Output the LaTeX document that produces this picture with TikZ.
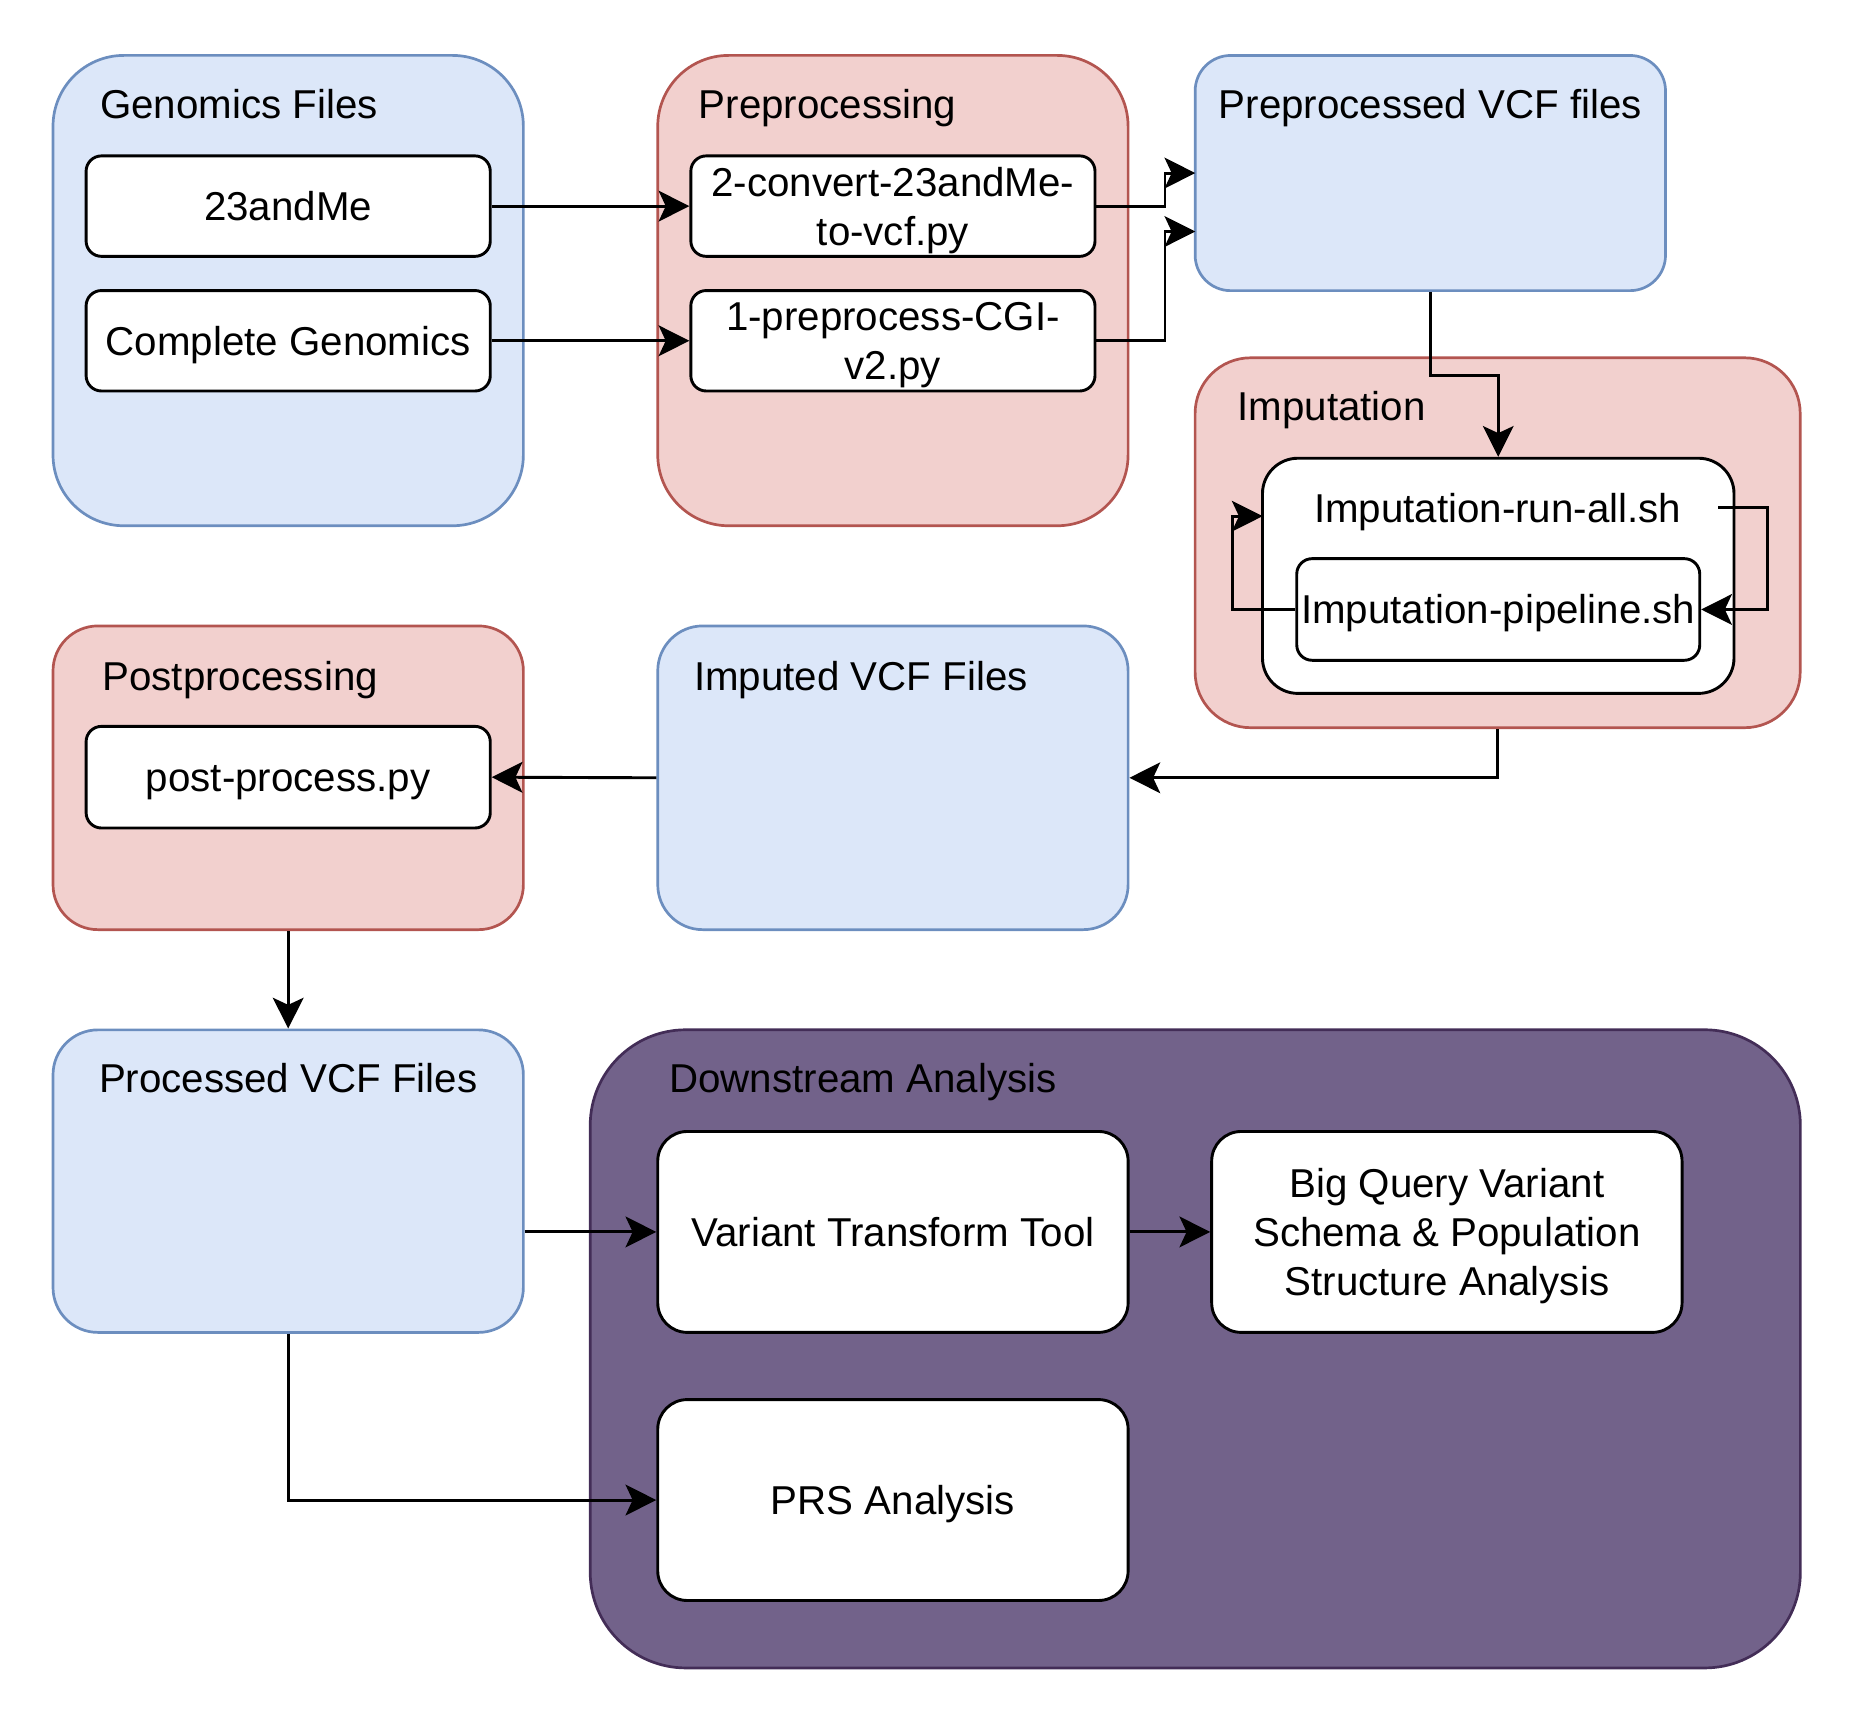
\documentclass[tikz,border=0pt]{standalone}
\usepackage{fontspec}
\setmainfont{Liberation Sans}
\usetikzlibrary{arrows.meta}

\definecolor{bluefill}{HTML}{DCE7F9}
\definecolor{blueline}{HTML}{6C8EBF}
\definecolor{redfill}{HTML}{F2D0CE}
\definecolor{redline}{HTML}{B35550}
\definecolor{purplefill}{HTML}{72628A}
\definecolor{purpleline}{HTML}{432D57}

\tikzset{
	grp/.style={line width=0.65pt, inner sep=0pt, minimum width=3.98cm},
	bluegrp/.style={grp, fill=bluefill, draw=blueline, rounded corners=#1},
	bluegrp/.default=0.38cm,
	redgrp/.style={grp, fill=redfill, draw=redline, rounded corners=#1},
	redgrp/.default=0.38cm,
	box/.style={draw=black, fill=white, line width=0.7pt, rounded corners=#1, align=center,
		minimum width=3.42cm, minimum height=0.85cm, inner sep=0pt,
		text height=6.98pt, text depth=0pt},
	box/.default=0.13cm,
	twolines/.style={text height=18.8pt},
	threelines/.style={text height=30.6pt},
	title/.style={anchor=base west, inner sep=0pt},
	arr/.style={-{Stealth[length=0.26cm,width=0.26cm,inset=0.06cm]}, line width=0.7pt},
}

\begin{document}
\begin{tikzpicture}[x=0.01cm, y=-0.01cm, font=\fontsize{9.7}{11.8}\selectfont]
	\useasboundingbox (0,0) rectangle (1568,1456);
	% groups
	\node[bluegrp=0.6cm, minimum height=3.98cm] (genf) at (244,246) {};
	\node[redgrp=0.6cm, minimum height=3.98cm] (prep) at (756,246) {};
	\node[bluegrp=0.3cm, minimum height=1.99cm] (ppvcf) at (1211,146.5) {};
	\node[redgrp=0.47cm, minimum width=5.12cm, minimum height=3.13cm] (imp) at (1268,459.5) {};
	\node[redgrp, minimum height=2.57cm] (post) at (244,658.5) {};
	\node[bluegrp, minimum height=2.57cm] (impvcf) at (756,658.5) {};
	\node[bluegrp, minimum height=2.56cm] (procvcf) at (244,1000) {};
	\node[grp, fill=purplefill, draw=purpleline, rounded corners=0.81cm,
		minimum width=10.24cm, minimum height=5.4cm] (down) at (1012,1142) {};
	% titles
	\node[title] at (84,100) {Genomics Files};
	\node[title] at (591,100) {Preprocessing};
	\node[anchor=base, inner sep=0pt] at (1211,100) {Preprocessed VCF files};
	\node[title] at (1047,356) {Imputation};
	\node[title] at (86,585) {Postprocessing};
	\node[title] at (587,585) {Imputed VCF Files};
	\node[anchor=base, inner sep=0pt] at (244,925) {Processed VCF Files};
	\node[title] at (566,925) {Downstream Analysis};
	% steps
	\node[box] (me23) at (244,174.5) {23andMe};
	\node[box] (cg) at (244,288.5) {Complete Genomics};
	\node[box, twolines] (conv) at (756,174.5) {2-convert-23andMe-\\to-vcf.py};
	\node[box, twolines] (cgi) at (756,288.5) {1-preprocess-CGI-\\v2.py};
	\node[box=0.3cm, minimum width=3.99cm, minimum height=1.99cm] (runall) at (1268.5,487.5) {};
	\node[inner sep=0pt, minimum width=3.72cm, text height=6.98pt, text depth=0pt] (runlbl) at (1268,430) {Imputation-run-all.sh};
	\node[box, minimum width=3.41cm, minimum height=0.86cm] (pipe) at (1268.5,516) {Imputation-pipeline.sh};
	\node[box, minimum height=0.86cm] (postpy) at (244,658) {post-process.py};
	\node[box=0.25cm, minimum width=3.98cm, minimum height=1.7cm] (vtt) at (756,1043) {Variant Transform Tool};
	\node[box=0.25cm, threelines, minimum width=3.98cm, minimum height=1.7cm] (bq) at (1225,1043) {Big Query Variant\\Schema \& Population\\Structure Analysis};
	\node[box=0.25cm, minimum width=3.98cm, minimum height=1.7cm] (prs) at (756,1270) {PRS Analysis};
	\coordinate (ppin1) at (1012,146.5);
	\coordinate (ppin2) at (1012,196);
	\coordinate (runin) at (1069,437);
	% connectors
	\draw[arr] (me23) -- (conv);
	\draw[arr] (cg) -- (cgi);
	\draw[arr] (conv.east) -- ++(58,0) |- (ppin1);
	\draw[arr] (cgi.east) -- ++(58,0) |- (ppin2);
	\draw[arr] (ppvcf.south) -- ++(0,71) -| (runall.north);
	\draw[arr] (pipe.west) -- ++(-53,0) |- (runin);
	\draw[arr] (runlbl.east) -- ++(42,0) |- (pipe.east);
	\draw[arr] (imp.south) |- (impvcf.east);
	\draw[arr] (impvcf.west) -- (postpy.east);
	\draw[arr] (post.south) -- (procvcf.north);
	\draw[arr] (procvcf.east |- vtt.west) -- (vtt.west);
	\draw[arr] (vtt.east) -- (bq.west);
	\draw[arr] (procvcf.south) |- (prs.west);
\end{tikzpicture}
\end{document}
